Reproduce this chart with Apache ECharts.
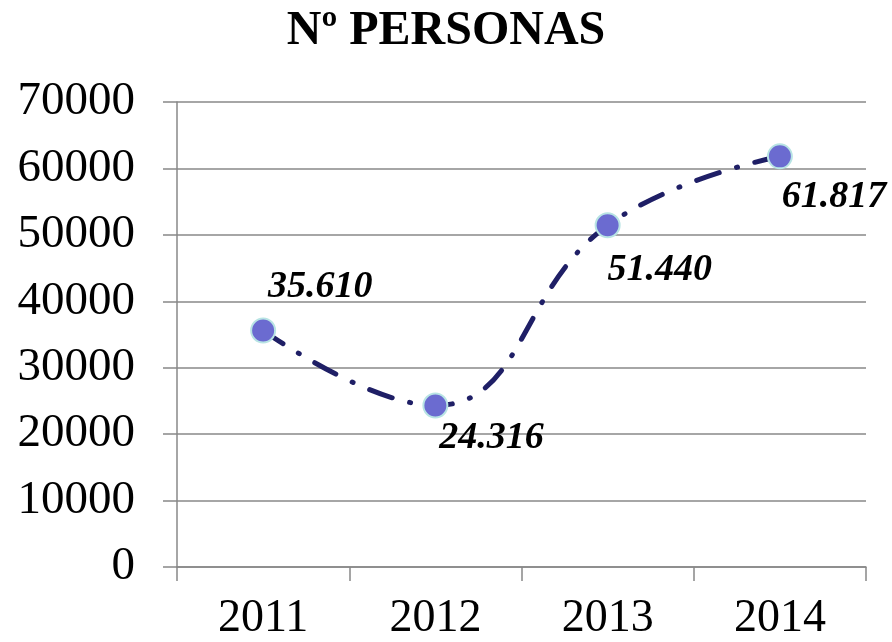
<html lang="es">
<head>
<meta charset="UTF-8">
<title>Nº PERSONAS</title>
<script src="https://cdn.jsdelivr.net/npm/echarts@6/dist/echarts.min.js"></script>
<style>
html, body { margin: 0; padding: 0; background: #fff; }
</style>
</head>
<body>
<div id="main" style="width: 892px;height:642px;"></div>
<script type="text/javascript">
// datos
var years = ['2011', '2012', '2013', '2014'];
var personas = [35610, 24316, 51440, 61817];
var valueLabels = ['35.610', '24.316', '51.440', '61.817'];
var yTicks = [0, 10000, 20000, 30000, 40000, 50000, 60000, 70000];

// desplazamiento de etiquetas (px)
var labelOffsets = [[57, -43], [56, 33], [52, 45], [54, 41]];

var serif = '"Liberation Serif", "Times New Roman", serif';

var points = personas.map(function(v, i){
	return {
		value: v,
		label: { offset: labelOffsets[i], formatter: valueLabels[i] }
	};
});

var chart = echarts.init(document.getElementById('main'));
var option = {
	animation: false,
	title: {
		text: 'Nº PERSONAS',
		left: 'center',
		top: 3,
		textStyle: {
			fontFamily: serif,
			fontWeight: 'bold',
			fontSize: 48,
			color: '#000'
		}
	},
	grid: {
		left: 177,
		right: 26,
		top: 102,
		bottom: 74
	},
	xAxis: {
		type: 'category',
		data: years,
		boundaryGap: true,
		axisLine: { lineStyle: { color: '#888', width: 1.5 } },
		axisTick: { show: true, length: 14, lineStyle: { color: '#888', width: 1.5 } },
		axisLabel: {
			margin: 29,
			fontFamily: serif,
			fontSize: 46,
			color: '#000'
		},
		splitLine: { show: false }
	},
	yAxis: {
		type: 'value',
		min: yTicks[0],
		max: yTicks[yTicks.length - 1],
		interval: yTicks[1] - yTicks[0],
		axisLine: { show: true, lineStyle: { color: '#888', width: 1.5 } },
		axisTick: { show: true, length: 14, lineStyle: { color: '#888', width: 1.5 } },
		axisLabel: {
			margin: 42,
			fontFamily: serif,
			fontSize: 47,
			color: '#000',
			formatter: function(v){ return String(v); }
		},
		splitLine: { show: true, lineStyle: { color: '#888', width: 1.5 } }
	},
	series: [{
		name: 'Nº personas',
		type: 'line',
		data: points,
		smooth: 0.45,
		symbol: 'circle',
		symbolSize: 24,
		z: 3,
		lineStyle: {
			color: '#1f1f66',
			width: 5,
			type: [24, 18, 1, 18],
			cap: 'round'
		},
		itemStyle: {
			color: '#6b6bd0',
			borderColor: '#b8e4e4',
			borderWidth: 2
		},
		label: {
			show: true,
			position: 'inside',
			align: 'center',
			verticalAlign: 'middle',
			fontFamily: serif,
			fontStyle: 'italic',
			fontWeight: 'bold',
			fontSize: 38,
			color: '#000'
		}
	}]
};
chart.setOption(option);
</script>
</body>
</html>
